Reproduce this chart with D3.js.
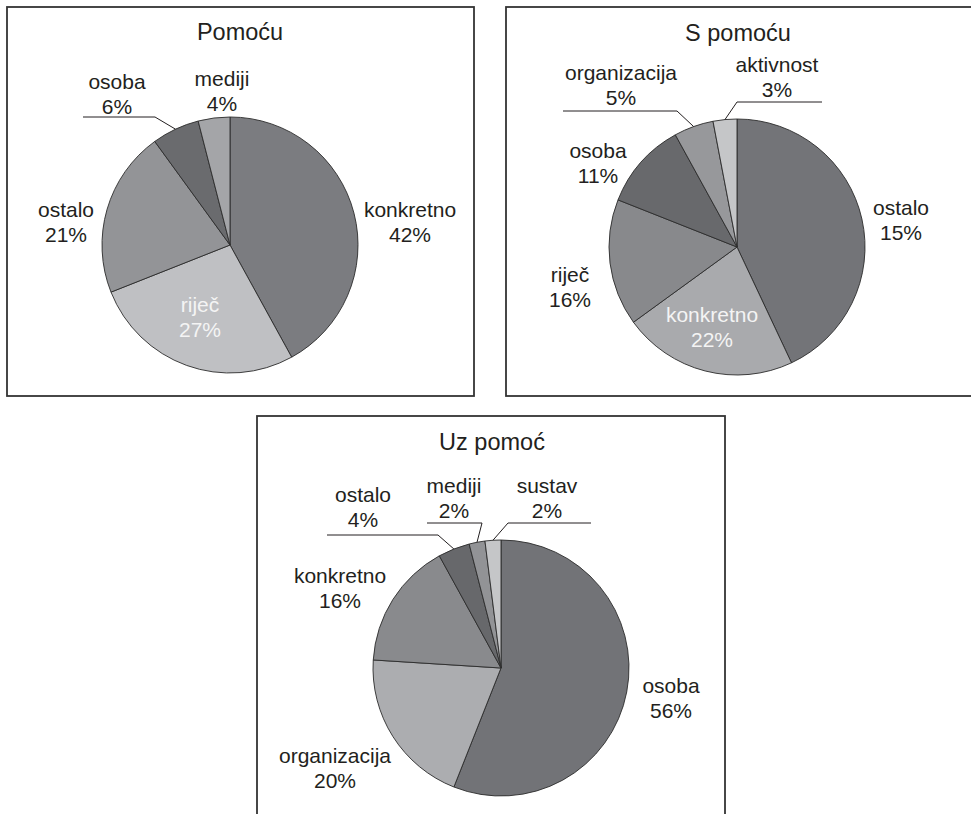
<!DOCTYPE html>
<html lang="hr">
<head>
<meta charset="utf-8">
<title>Pomoću / S pomoću / Uz pomoć</title>
<script src="https://cdn.jsdelivr.net/npm/d3@7"></script>
<style>
  body { margin: 0; background: #fff; }
  text { font-family: "Liberation Sans", Arial, sans-serif; fill: #231f20; }
</style>
</head>
<body>
<script>
// data, one set of arrays per pie (clockwise from 12 o'clock)
var titles = ["Pomoću", "S pomoću", "Uz pomoć"];

var cats1 = ["konkretno", "riječ", "ostalo", "osoba", "mediji"];
var vals1 = [42, 27, 21, 6, 4];
var pct1  = ["42%", "27%", "21%", "6%", "4%"];

var cats2 = ["ostalo", "konkretno", "riječ", "osoba", "organizacija", "aktivnost"];
var vals2 = [43, 22, 16, 11, 5, 3];
var pct2  = ["15%", "22%", "16%", "11%", "5%", "3%"];   // label text as printed

var cats3 = ["osoba", "organizacija", "konkretno", "ostalo", "mediji", "sustav"];
var vals3 = [56, 20, 16, 4, 2, 2];
var pct3  = ["56%", "20%", "16%", "4%", "2%", "2%"];

// styling / layout (separate from the data)
var fills1 = ["#7b7c80", "#bfc0c3", "#939497", "#6a6b6e", "#a4a5a8"];
var fills2 = ["#737478", "#a9aaad", "#88898c", "#68696c", "#97989b", "#c5c6c8"];
var fills3 = ["#727377", "#acadb0", "#898a8d", "#67686b", "#929396", "#c5c6c8"];

// label offsets from pie centre: [dx, dy of first baseline, white?, leader]
// leader = [elbow dx, elbow dy, end dx]
var lab1 = [[180, -28], [-30, 67, true], [-164, -28], [-113, -156, false, [-75, -128, -147]], [-8, -159]];
var lab2 = [[164, -32], [-25, 75, true], [-167, 35], [-139, -89],
            [-116, -167, false, [-60, -136, -174]], [40, -175, false, [0, -145, 85]]];
var lab3 = [[170, 25], [-166, 95], [-161, -85], [-138, -166, false, [-63, -133, -174]],
            [-47, -175, false, [-19, -145, -74]], [46, -175, false, [7, -145, 90]]];

var panels = [
  {box: [7, 7, 467, 389], cx: 230, cy: 245, tx: 240, ty: 40, cats: cats1, vals: vals1, pct: pct1, fills: fills1, lab: lab1},
  {box: [506, 7, 470, 389], cx: 737, cy: 247, tx: 738, ty: 41, cats: cats2, vals: vals2, pct: pct2, fills: fills2, lab: lab2},
  {box: [257, 416, 468, 420], cx: 501, cy: 668, tx: 492, ty: 450, cats: cats3, vals: vals3, pct: pct3, fills: fills3, lab: lab3}
];

var W = 971, H = 814, R = 128;

var svg = d3.select("body").append("svg")
  .attr("width", W).attr("height", H);

var pie = d3.pie().sort(null).value(function(d) { return d; });
var arc = d3.arc().innerRadius(0).outerRadius(R);

panels.forEach(function(p, k) {
  svg.append("rect")
    .attr("x", p.box[0]).attr("y", p.box[1])
    .attr("width", p.box[2]).attr("height", p.box[3])
    .attr("fill", "none").attr("stroke", "#333").attr("stroke-width", 1.8);

  svg.append("text")
    .attr("x", p.tx).attr("y", p.ty)
    .attr("text-anchor", "middle")
    .attr("font-size", "23.5px")
    .text(titles[k]);

  var g = svg.append("g").attr("transform", "translate(" + p.cx + "," + p.cy + ")");
  var arcs = pie(p.vals);

  g.selectAll("path")
    .data(arcs)
    .enter().append("path")
    .attr("d", arc)
    .attr("fill", function(d, i) { return p.fills[i]; })
    .attr("stroke", "#2b2b2b")
    .attr("stroke-width", 0.9);

  // leader lines from slice midpoint on the rim
  arcs.forEach(function(a, i) {
    var L = p.lab[i][3];
    if (!L) return;
    var m = (a.startAngle + a.endAngle) / 2;
    var px = R * Math.sin(m), py = -R * Math.cos(m);
    g.append("path")
      .attr("d", d3.line()([[px, py], [L[0], L[1]], [L[2], L[1]]]))
      .attr("fill", "none").attr("stroke", "#231f20").attr("stroke-width", 1);
  });

  var t = g.selectAll("text.lab")
    .data(arcs)
    .enter().append("text")
    .attr("class", "lab")
    .attr("text-anchor", "middle")
    .attr("font-size", "21px")
    .style("fill", function(d, i) { return p.lab[i][2] ? "#f4f4f4" : "#231f20"; });

  t.append("tspan")
    .attr("x", function(d, i) { return p.lab[i][0]; })
    .attr("y", function(d, i) { return p.lab[i][1]; })
    .text(function(d, i) { return p.cats[i]; });
  t.append("tspan")
    .attr("x", function(d, i) { return p.lab[i][0]; })
    .attr("y", function(d, i) { return p.lab[i][1] + 25; })
    .text(function(d, i) { return p.pct[i]; });
});
</script>
</body>
</html>
